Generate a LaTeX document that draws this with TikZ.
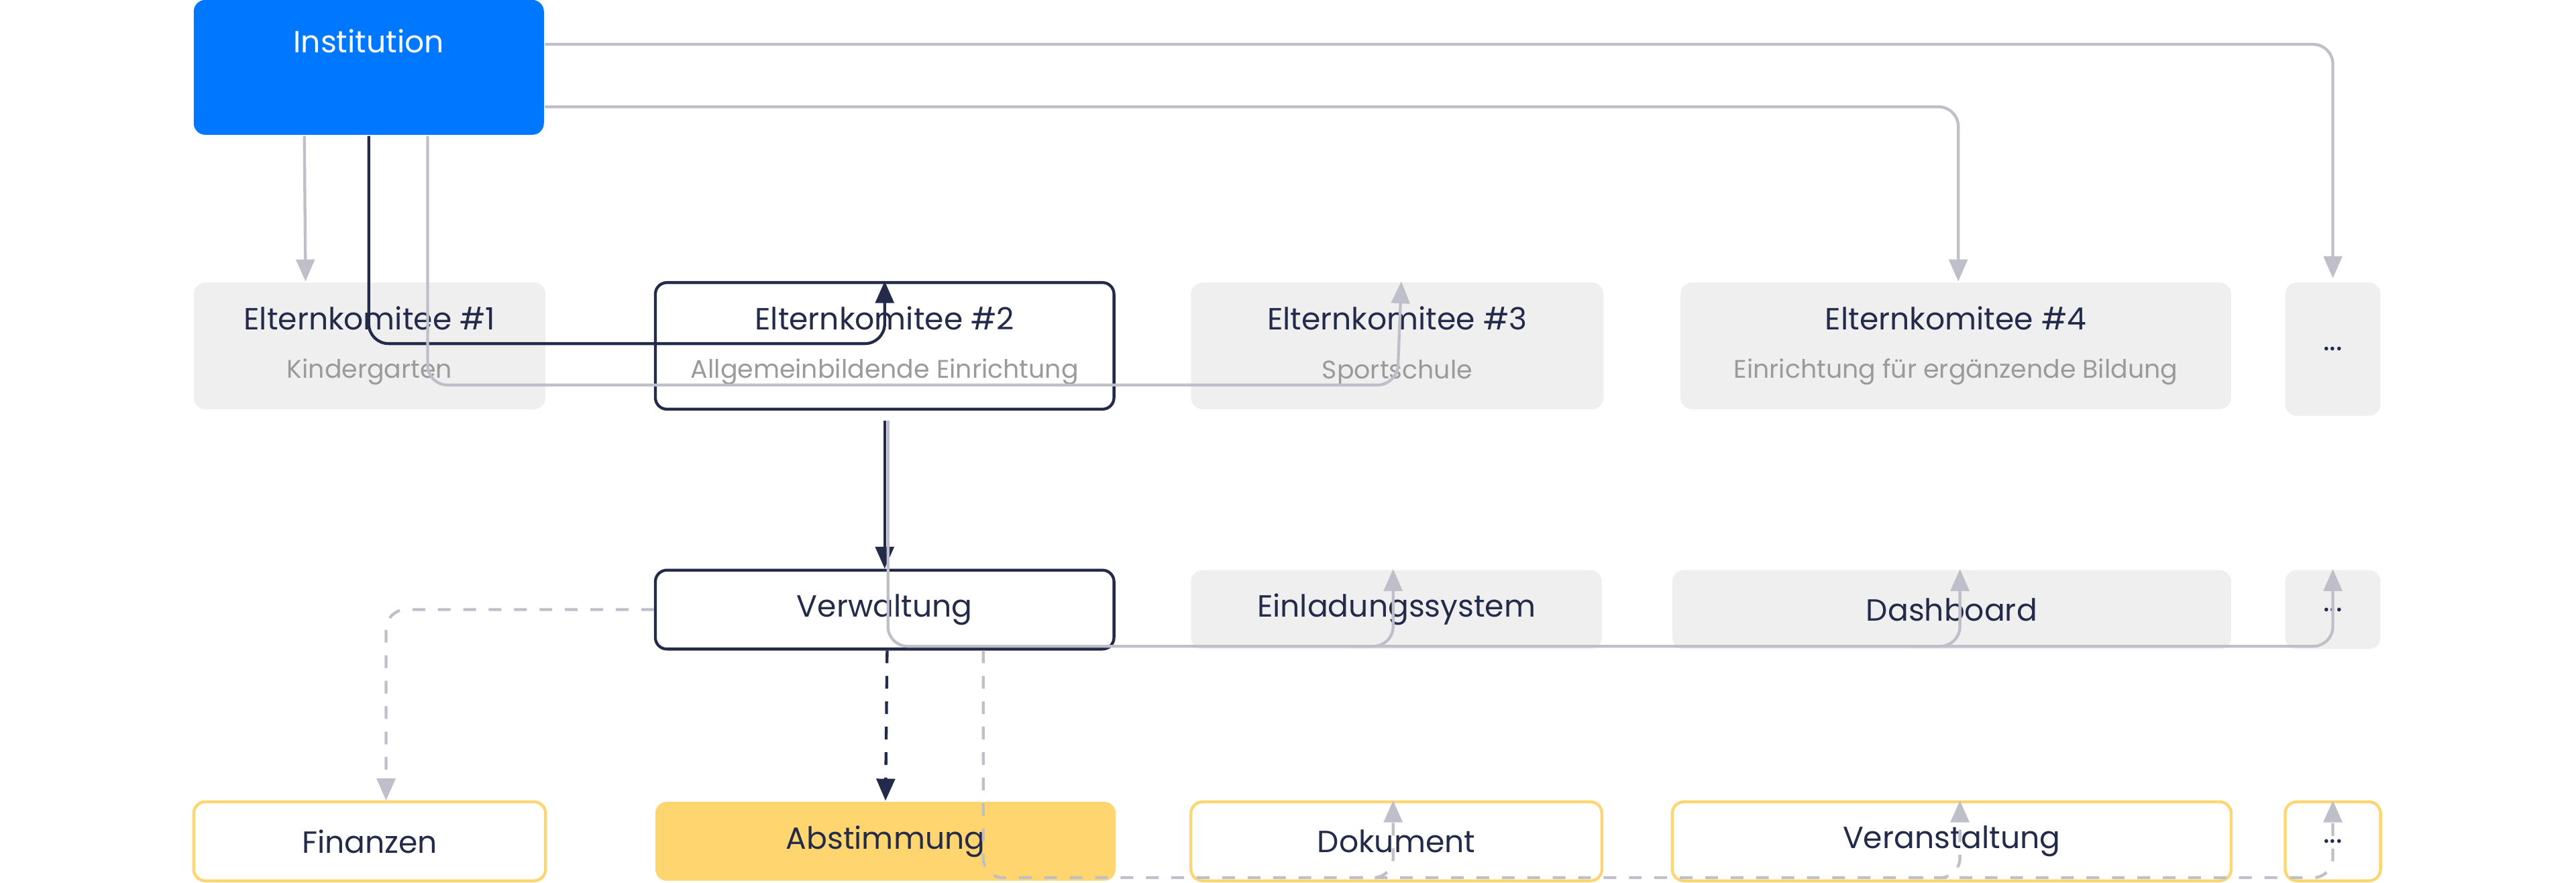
\documentclass[tikz,border=0pt]{standalone}
\usepackage{fontspec}
\setmainfont{Poppins}
\usetikzlibrary{arrows.meta}
\definecolor{navy}{HTML}{232A4A}
\definecolor{lgray}{HTML}{BEBFC8}
\definecolor{boxgray}{HTML}{EFEFEF}
\definecolor{sub}{HTML}{9A9A9A}
\definecolor{instblue}{HTML}{0077FF}
\definecolor{yel}{HTML}{FFD570}
\begin{document}
\begin{tikzpicture}[x=0.01cm,y=-0.01cm,
  box/.style={rectangle,rounded corners=0.07cm,inner sep=0,minimum height=0.48cm,
    font=\fontsize{5.3}{6}\selectfont,text=navy,align=center},
  gbox/.style={box,fill=boxgray},
  wbox/.style={box,fill=white,draw=navy,line width=0.5pt},
  ybox/.style={box,fill=white,draw=yel,line width=0.5pt},
  tall/.style={minimum height=0.77cm},
  con/.style={draw=lgray,line width=0.5pt,rounded corners=0.12cm,-{Triangle[width=3.2pt,length=3.8pt]}},
  dcon/.style={con,dash pattern=on 2.2pt off 2.2pt},
  dark/.style={draw=navy}]
\useasboundingbox (0,0) rectangle (1568,537);
% top
\node[box,fill=instblue,minimum width=2.13cm,minimum height=0.82cm] (inst) at (224.5,41) {};
\node[font=\fontsize{5.3}{6}\selectfont,text=white] (instlbl) at (224.5,25) {Institution};
% row 1
\newcommand\ek[2]{#1\\[2.4pt]{\fontsize{4.4}{5}\selectfont\color{sub}#2}}
\node[gbox,tall,minimum width=2.14cm] (ek1) at (225,210.5) {\ek{Elternkomitee \#1}{Kindergarten}};
\node[wbox,tall,minimum width=2.79cm] (ek2) at (538.5,210.5) {\ek{Elternkomitee \#2}{Allgemeinbildende Einrichtung}};
\node[gbox,tall,minimum width=2.51cm] (ek3) at (850.5,210.5) {\ek{Elternkomitee \#3}{Sportschule}};
\node[gbox,tall,minimum width=3.35cm] (ek4) at (1190.5,210.5) {\ek{Elternkomitee \#4}{Einrichtung für ergänzende Bildung}};
\node[gbox,minimum width=0.58cm,minimum height=0.81cm] (more1) at (1420,212.5) {...};
% row 2
\node[wbox,minimum width=2.79cm] (verw) at (538.5,371) {Verwaltung};
\node[gbox,minimum width=2.5cm] (einl) at (850,371) {Einladungssystem};
\node[gbox,minimum width=3.4cm] (dash) at (1188,371) {Dashboard};
\node[gbox,minimum width=0.58cm] (more2) at (1420,371) {...};
% row 3
\node[ybox,minimum width=2.14cm] (fin) at (225,512) {Finanzen};
\node[box,fill=yel,minimum width=2.8cm] (abst) at (539,512) {Abstimmung};
\node[ybox,minimum width=2.5cm] (dok) at (850,512) {Dokument};
\node[ybox,minimum width=3.4cm] (veran) at (1188,512) {Veranstaltung};
\node[ybox,minimum width=0.58cm] (more3) at (1420,512) {...};
% institution links
\draw[con] ([xshift=0.68cm]inst.south west) -- ([xshift=-0.39cm]ek1.north);
\draw[con,dark] (inst.south) |- ([yshift=-0.38cm]ek2.north) -- (ek2.north);
\draw[con] ([xshift=1.43cm]inst.south west) |- ([yshift=-0.63cm]ek3.north) -- ([xshift=0.025cm]ek3.north);
\draw[con] ([yshift=-0.24cm]inst.east) -| ([xshift=0.015cm]ek4.north);
\draw[con] ([yshift=0.14cm]inst.east) -| ([yshift=0.02cm]more1.north);
% committee links
\draw[con,dark,rounded corners=0] ([yshift=-0.06cm]ek2.south) -- (verw.north);
\draw[con] ([xshift=0.02cm,yshift=-0.06cm]ek2.south) |- ([yshift=-0.47cm]more2.north) -- (more2.north);
\draw[con] ([xshift=-0.28cm,yshift=-0.47cm]einl.north) -| ([xshift=-0.02cm]einl.north);
\draw[con] ([xshift=-0.25cm,yshift=-0.47cm]dash.north) -| ([xshift=0.05cm]dash.north);
% modules
\draw[dcon] (verw.west) -| ([xshift=0.1cm]fin.north);
\draw[dcon,dark,rounded corners=0] ([xshift=0.015cm]verw.south) -- (abst.north);
\draw[dcon] ([xshift=0.6cm]verw.south) |- ([yshift=-0.47cm]more3.north) -- (more3.north);
\draw[dcon] ([xshift=-0.28cm,yshift=-0.47cm]dok.north) -| ([xshift=-0.02cm]dok.north);
\draw[dcon] ([xshift=-0.25cm,yshift=-0.47cm]veran.north) -| ([xshift=0.05cm]veran.north);
\end{tikzpicture}
\end{document}
